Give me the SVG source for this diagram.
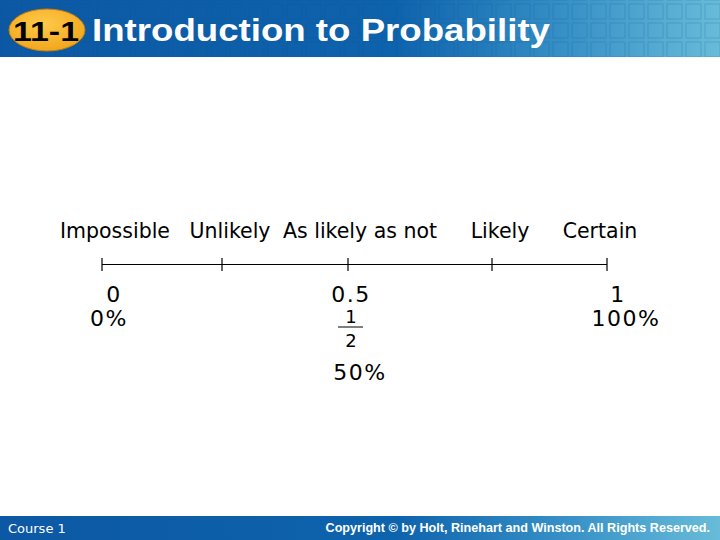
<svg xmlns="http://www.w3.org/2000/svg" width="720" height="540" viewBox="0 0 720 540">
<defs>
<linearGradient id="hdr" x1="0" y1="0" x2="1" y2="0">
<stop offset="0" stop-color="#0c58a4"/>
<stop offset="0.55" stop-color="#0e63ad"/>
<stop offset="0.8" stop-color="#3a93c8"/>
<stop offset="1" stop-color="#68bcd9"/>
</linearGradient>
<radialGradient id="oval" cx="0.45" cy="0.35" r="0.7">
<stop offset="0" stop-color="#ffc94a"/>
<stop offset="1" stop-color="#f0a418"/>
</radialGradient>
<pattern id="grid" x="0" y="2" width="19" height="19" patternUnits="userSpaceOnUse">
<rect x="2" y="2" width="15" height="15" fill="none" stroke="#0a4f8a" stroke-opacity="0.22" stroke-width="1"/>
</pattern>
</defs>
<style>
.lbl{font-family:"DejaVu Sans",Verdana,sans-serif;font-size:20.5px;fill:#000;text-anchor:middle}
.num{font-family:"DejaVu Sans",Verdana,sans-serif;font-size:22px;fill:#000;text-anchor:middle;letter-spacing:1.5px}
.frac{font-family:"DejaVu Sans",Verdana,sans-serif;font-size:18px;fill:#000;text-anchor:middle}
.axis{stroke:#000;stroke-width:1.2;fill:none}
</style>
<rect width="720" height="540" fill="#fff"/>
<g id="header">
<rect x="0" y="0" width="720" height="57" fill="url(#hdr)"/>
<rect x="0" y="0" width="720" height="57" fill="url(#grid)"/>
<ellipse cx="47" cy="30" rx="38" ry="21" fill="url(#oval)" stroke="#c57d08" stroke-width="1"/>
<text x="46" y="41" font-family="Liberation Sans,Arial,sans-serif" font-weight="bold" font-size="28" fill="#000" text-anchor="middle" textLength="66" lengthAdjust="spacingAndGlyphs">11-1</text>
<text x="92" y="41" font-family="Liberation Sans,Arial,sans-serif" font-weight="bold" font-size="31" fill="#fff" textLength="458" lengthAdjust="spacingAndGlyphs">Introduction to Probability</text>
</g>
<g id="footer">
<rect x="0" y="516" width="720" height="24" fill="url(#hdr)"/>
<text x="8" y="533" font-family="DejaVu Sans,Verdana,sans-serif" font-size="13" fill="#fff">Course 1</text>
<text x="710" y="532" font-family="Liberation Sans,Arial,sans-serif" font-weight="bold" font-size="12.6" fill="#fff" text-anchor="end">Copyright © by Holt, Rinehart and Winston. All Rights Reserved.</text>
</g>
<g id="connectors">
<line class="axis" x1="102" y1="264.5" x2="607" y2="264.5"/>
<line class="axis" x1="102" y1="258" x2="102" y2="271"/>
<line class="axis" x1="222" y1="258" x2="222" y2="271"/>
<line class="axis" x1="348" y1="258" x2="348" y2="271"/>
<line class="axis" x1="492" y1="258" x2="492" y2="271"/>
<line class="axis" x1="607" y1="258" x2="607" y2="271"/>
</g>
<g id="impossible">
<text class="lbl" x="115" y="238">Impossible</text>
<text class="num" x="114" y="302">0</text>
<text class="num" x="109" y="326">0%</text>
</g>
<g id="unlikely">
<text class="lbl" x="230" y="238">Unlikely</text>
</g>
<g id="aslikely">
<text class="lbl" x="360" y="238">As likely as not</text>
<text class="num" x="351" y="302">0.5</text>
<text class="frac" x="351" y="323">1</text>
<line x1="338" y1="327" x2="363" y2="327" stroke="#000" stroke-width="1"/>
<text class="frac" x="351" y="347">2</text>
<text class="num" x="360" y="380">50%</text>
</g>
<g id="likely">
<text class="lbl" x="500" y="238">Likely</text>
</g>
<g id="certain">
<text class="lbl" x="600" y="238">Certain</text>
<text class="num" x="618" y="302">1</text>
<text class="num" x="626" y="326">100%</text>
</g>
</svg>
